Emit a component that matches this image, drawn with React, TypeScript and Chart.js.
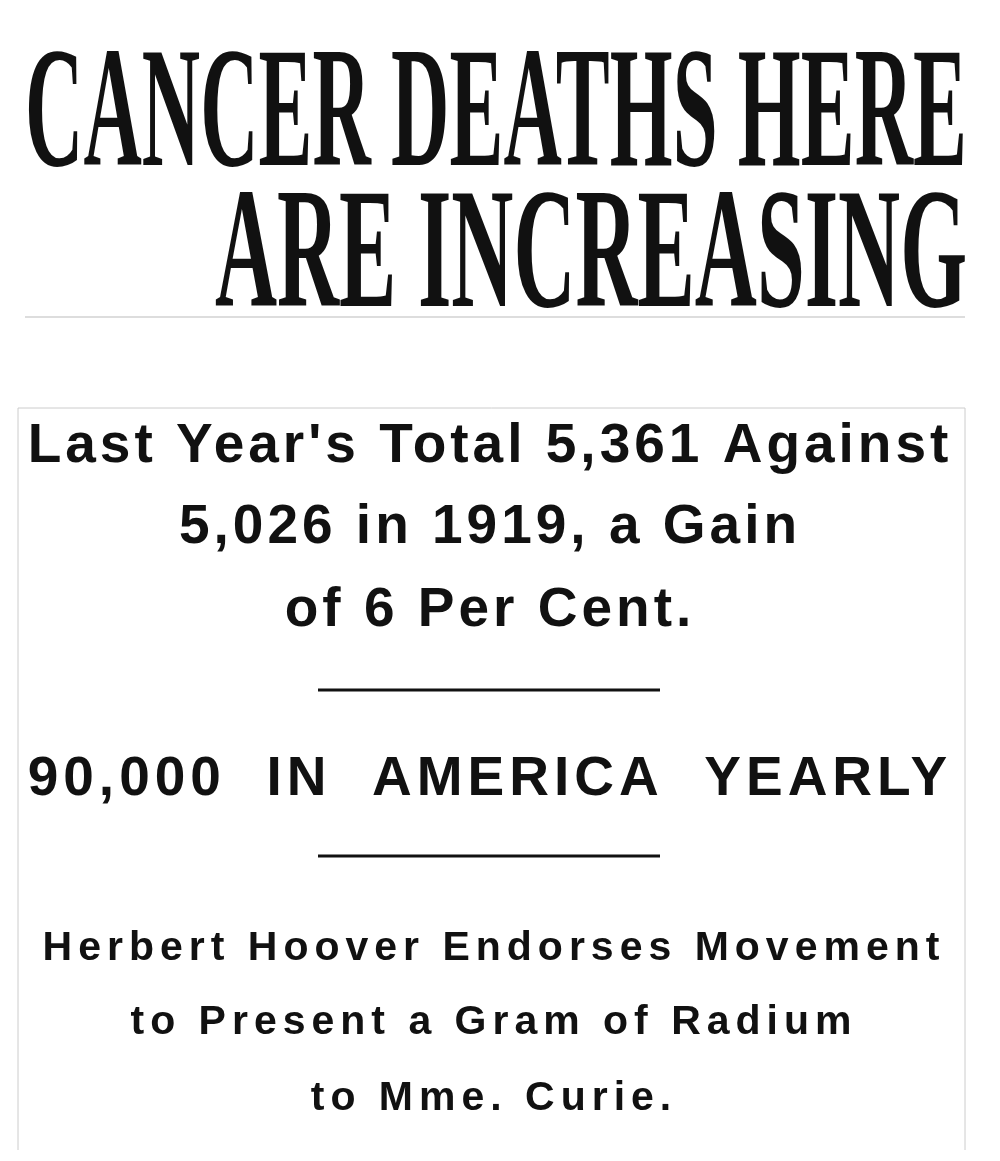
import React, { useEffect, useRef } from "react";
import { Chart, registerables } from "chart.js";
Chart.register(...registerables);

const headlineLines = ["CANCER DEATHS HERE", "ARE INCREASING"];
const deckLines = ["Last Year's Total 5,361 Against", "5,026 in 1919, a Gain", "of 6 Per Cent."];
const bannerLine = ["90,000  IN  AMERICA  YEARLY"];
const subLines = ["Herbert Hoover Endorses Movement", "to Present a Gram of Radium", "to Mme. Curie."];
const categories: string[] = [];
const values: number[] = [];

const textPlugin = {
  id: "clipping",
  afterDraw(chart: any) {
    const ctx = chart.ctx as any;
    ctx.save();
    ctx.fillStyle = "#111";
    ctx.textBaseline = "alphabetic";
    ctx.font = "bold 172px 'Liberation Serif'";
    ctx.textAlign = "left";
    ctx.fillText(headlineLines[0], 25, 165, 942);
    ctx.textAlign = "right";
    ctx.fillText(headlineLines[1], 967, 306, 752);
    ctx.lineWidth = 1;
    ctx.strokeStyle = "#bbb";
    ctx.beginPath(); ctx.moveTo(25, 317); ctx.lineTo(965, 317); ctx.stroke();
    ctx.strokeStyle = "#ccc";
    ctx.beginPath();
    ctx.moveTo(18, 1150); ctx.lineTo(18, 408); ctx.lineTo(965, 408); ctx.lineTo(965, 1150);
    ctx.stroke();
    ctx.strokeStyle = "#111";
    ctx.textAlign = "center";
    ctx.font = "bold 55px 'Liberation Sans'";
    ctx.letterSpacing = "4px";
    ctx.fillText(deckLines[0], 490, 462, 935);
    ctx.fillText(deckLines[1], 490, 543);
    ctx.fillText(deckLines[2], 490, 626);
    ctx.lineWidth = 3;
    ctx.beginPath(); ctx.moveTo(318, 690); ctx.lineTo(660, 690); ctx.stroke();
    ctx.letterSpacing = "5px";
    ctx.fillText(bannerLine[0], 490, 795, 935);
    ctx.beginPath(); ctx.moveTo(318, 856); ctx.lineTo(660, 856); ctx.stroke();
    ctx.font = "bold 41px 'Liberation Sans'";
    ctx.letterSpacing = "6px";
    ctx.fillText(subLines[0], 494, 960, 935);
    ctx.fillText(subLines[1], 494, 1034);
    ctx.fillText(subLines[2], 494, 1110);
    ctx.restore();
  },
};

export default function App() {
  const ref = useRef<HTMLCanvasElement>(null);
  useEffect(() => {
    document.body.style.margin = "0";
    const chart = new Chart(ref.current!, {
      type: "bar",
      data: { labels: categories, datasets: [{ data: values }] },
      options: {
        animation: false,
        responsive: false,
        devicePixelRatio: 1,
        plugins: { legend: { display: false }, tooltip: { enabled: false } },
        scales: { x: { display: false }, y: { display: false } },
      },
      plugins: [textPlugin],
    });
    return () => chart.destroy();
  }, []);
  return (
    <div style={{ background: "#fff", width: 1000, height: 1161 }}>
      <canvas ref={ref} width={1000} height={1161} style={{ width: 1000, height: 1161, display: "block" }} />
    </div>
  );
}
